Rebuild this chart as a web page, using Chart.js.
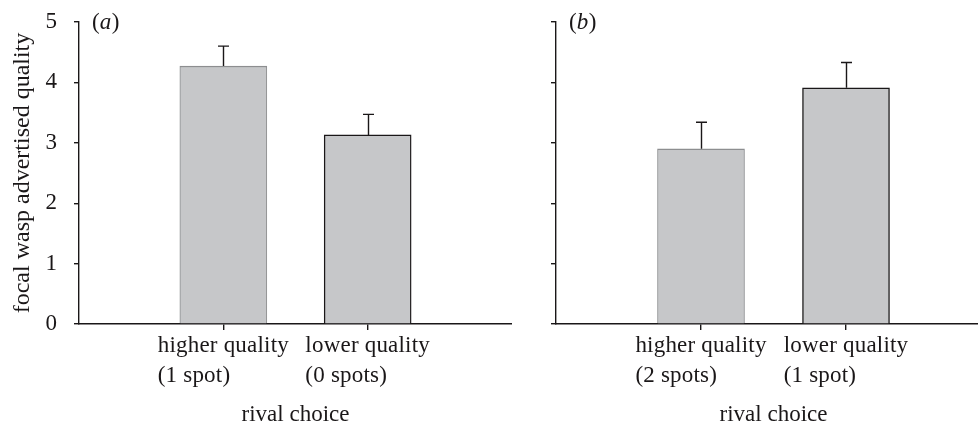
<!DOCTYPE html>
<html>
<head>
<meta charset="utf-8">
<script src="https://cdn.jsdelivr.net/npm/chart.js@4/dist/chart.umd.min.js"></script>
<style>
  html, body { margin: 0; padding: 0; background: #fff; overflow: hidden; }
  #wrap { position: relative; width: 978px; height: 428px; overflow: hidden; }
  canvas { position: absolute; top: 0; }
  #panelA { left: 0; }
  #panelB { left: 512px; }
</style>
</head>
<body>
<div id="wrap">
  <canvas id="panelA" width="512" height="428"></canvas>
  <canvas id="panelB" width="479" height="428"></canvas>
</div>
<script>
// two panels of mean advertised quality, bars + upper SE whiskers

const yTicks = [0, 1, 2, 3, 4, 5];

const catsA = ['', ['higher quality', '(1 spot)'], ['lower quality', '(0 spots)'], ''];
const meansA = [null, 4.27, 3.13, null];
const errA = [null, 0.33, 0.34, null];

const catsB = ['', ['higher quality', '(2 spots)'], ['lower quality', '(1 spot)'], ''];
const meansB = [null, 2.90, 3.91, null];
const errB = [null, 0.44, 0.42, null];

const INK = '#1a1718';
const SERIF = '"Liberation Serif", "Times New Roman", serif';

// ----- plugins -----
const errorBars = {
  id: 'errorBars',
  afterDatasetsDraw(chart, args, opts) {
    const ctx = chart.ctx;
    const y = chart.scales.y;
    const meta = chart.getDatasetMeta(0);
    ctx.save();
    ctx.strokeStyle = INK;
    ctx.lineWidth = 1.4;
    meta.data.forEach((bar, i) => {
      const m = opts.means[i], e = opts.errs[i];
      if (m == null || e == null) return;
      const x = Math.round(bar.x) + 0.5;
      const yTop = y.getPixelForValue(m + e);
      ctx.beginPath();
      ctx.moveTo(x, bar.y);
      ctx.lineTo(x, yTop);
      ctx.moveTo(x - 5.5, yTop);
      ctx.lineTo(x + 5.5, yTop);
      ctx.stroke();
    });
    ctx.restore();
  }
};

// x labels: each block centred on its tick, lines left aligned
const blockLabels = {
  id: 'blockLabels',
  afterDraw(chart, args, opts) {
    const ctx = chart.ctx;
    const xs = chart.scales.x;
    ctx.save();
    ctx.font = '23px ' + SERIF;
    ctx.fillStyle = INK;
    ctx.textAlign = 'left';
    ctx.textBaseline = 'alphabetic';
    try { ctx.letterSpacing = '0.2px'; } catch (e) {}
    opts.cats.forEach((lines, i) => {
      if (!Array.isArray(lines)) return;
      const cx = xs.getPixelForTick(i);
      const w = Math.max(...lines.map(l => ctx.measureText(l).width));
      lines.forEach((l, k) => ctx.fillText(l, cx - w / 2, xs.top + 28 + k * 30));
    });
    ctx.restore();
  }
};

const panelTag = {
  id: 'panelTag',
  afterDraw(chart, args, opts) {
    const ctx = chart.ctx;
    const x0 = chart.chartArea.left + 13;
    const yb = chart.chartArea.top + 7;
    ctx.save();
    ctx.fillStyle = INK;
    ctx.textBaseline = 'alphabetic';
    ctx.textAlign = 'left';
    let x = x0;
    ctx.font = '23px ' + SERIF;
    ctx.fillText('(', x, yb); x += ctx.measureText('(').width;
    ctx.font = 'italic 23px ' + SERIF;
    ctx.fillText(opts.letter, x, yb); x += ctx.measureText(opts.letter).width + 0.5;
    ctx.font = '23px ' + SERIF;
    ctx.fillText(')', x, yb);
    ctx.restore();
  }
};

function makePanel(id, cats, means, errs, letter, showY, yWidth) {
  const ctx = document.getElementById(id).getContext('2d');
  return new Chart(ctx, {
    type: 'bar',
    data: {
      labels: cats,
      datasets: [{
        data: means,
        backgroundColor: '#c6c7c9',
        borderColor: ['#000', '#8d8e90', INK, '#000'],
        borderWidth: [0, { top: 1.4, left: 1, right: 1, bottom: 0 }, 1.4, 0],
        borderSkipped: 'start',
        barThickness: 87
      }]
    },
    options: {
      responsive: false,
      animation: false,
      devicePixelRatio: 1,
      layout: { padding: { top: 22, left: 0, right: 0, bottom: 0 } },
      plugins: {
        legend: { display: false },
        tooltip: { enabled: false },
        errorBars: { means, errs },
        blockLabels: { cats },
        panelTag: { letter }
      },
      scales: {
        x: {
          offset: false,
          grid: {
            offset: false,
            drawOnChartArea: false,
            drawTicks: true,
            tickLength: 6,
            lineWidth: 1.4,
            color: c => (c.index === 1 || c.index === 2) ? INK : 'rgba(0,0,0,0)'
          },
          border: { display: true, color: INK, width: 1.4 },
          ticks: { display: false },
          title: {
            display: true,
            text: 'rival choice',
            color: INK,
            font: { family: SERIF, size: 23, lineHeight: 1.1 },
            padding: { top: 0, bottom: 0 }
          },
          afterFit: s => { s.height = 104; }
        },
        y: {
          min: 0,
          max: 5,
          afterBuildTicks: s => { s.ticks = yTicks.map(v => ({ value: v })); },
          grid: {
            drawOnChartArea: false,
            drawTicks: true,
            tickLength: 5,
            lineWidth: 1.4,
            color: INK
          },
          border: { display: true, color: INK, width: 1.4 },
          ticks: {
            color: showY ? INK : 'rgba(0,0,0,0)',
            font: { family: SERIF, size: 23 },
            padding: 17
          },
          title: {
            display: showY,
            text: 'focal wasp advertised quality',
            color: INK,
            font: { family: SERIF, size: 24, lineHeight: 1.2 },
            padding: { top: 8, bottom: 0 }
          },
          afterFit: s => {
            s.width = yWidth;
            s.paddingTop = 0;
            s.paddingBottom = 0;
          }
        }
      }
    },
    plugins: [errorBars, blockLabels, panelTag]
  });
}

makePanel('panelA', catsA, meansA, errA, 'a', true, 79);
makePanel('panelB', catsB, meansB, errB, 'b', false, 44);
</script>
</body>
</html>
